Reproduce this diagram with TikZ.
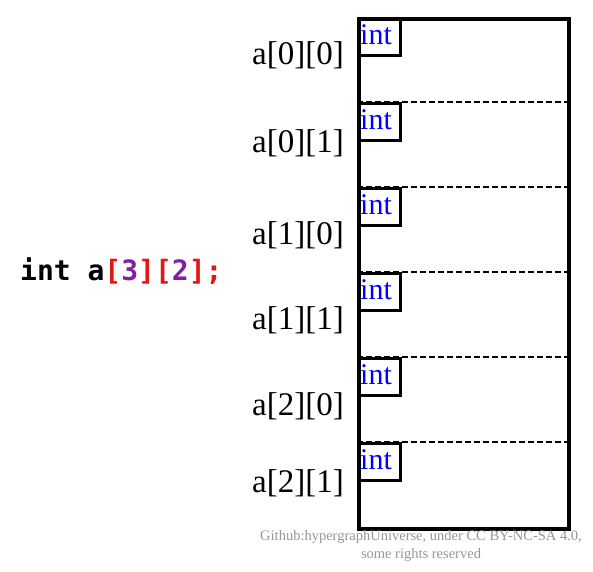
\documentclass[tikz,border=0pt]{standalone}
\usepackage{fontspec}
\setmainfont{Liberation Serif}
\newfontfamily\codefont{DejaVu Sans Mono}
\usetikzlibrary{positioning}
\definecolor{codered}{RGB}{230,20,20}
\definecolor{codepurple}{RGB}{130,30,160}
\definecolor{wmgray}{RGB}{150,150,150}
\begin{document}
\begin{tikzpicture}[x=1pt,y=-1pt,
  cellbox/.style={draw=black,line width=3.5pt,minimum width=210pt,minimum height=510pt,anchor=north west,inner sep=0pt},
  intbox/.style={draw=black,line width=3pt,minimum width=42pt,minimum height=37pt,anchor=north west,inner sep=0pt},
  inttext/.style={anchor=base west,inner sep=0pt,font=\fontsize{30}{30}\selectfont,text=blue},
  sep/.style={draw=black,line width=2.2pt,dash pattern=on 6pt off 3pt},
  elabel/.style={anchor=east,font=\fontsize{33}{33}\selectfont,inner sep=0pt},
  credit/.style={font=\fontsize{14.5}{18}\selectfont,text=wmgray,align=center}]
\useasboundingbox (0,0) rectangle (593,571);
\node[cellbox] (arr) at (357,17) {};
\foreach \i/\y in {1/102,2/187,3/272,4/357,5/442}{
  \coordinate (l\i) at (357,\y);
  \coordinate (r\i) at (567,\y);
  \draw[sep] (l\i) -- (r\i);
}
\foreach \i/\y in {0/17,1/102,2/187,3/272,4/357,5/442}{
  \node[intbox] (int\i) at (357,\y) {};
  \node[inttext] (intt\i) at (360,\y+27) {int};
}
\node[elabel] (e0) at (344,55) {a[0][0]};
\node[elabel] (e1) at (344,143) {a[0][1]};
\node[elabel] (e2) at (344,235) {a[1][0]};
\node[elabel] (e3) at (344,320) {a[1][1]};
\node[elabel] (e4) at (344,406) {a[2][0]};
\node[elabel] (e5) at (344,483) {a[2][1]};
\node[anchor=west,inner sep=0pt,font=\codefont\bfseries\fontsize{28}{28}\selectfont] (code) at (20,271)
  {int a\textcolor{codered}{[}\textcolor{codepurple}{3}\textcolor{codered}{][}\textcolor{codepurple}{2}\textcolor{codered}{];}};
\node[credit] (cr) at (421,546) {Github:hypergraphUniverse, under CC BY-NC-SA 4.0,\\some rights reserved};
\end{tikzpicture}
\end{document}
